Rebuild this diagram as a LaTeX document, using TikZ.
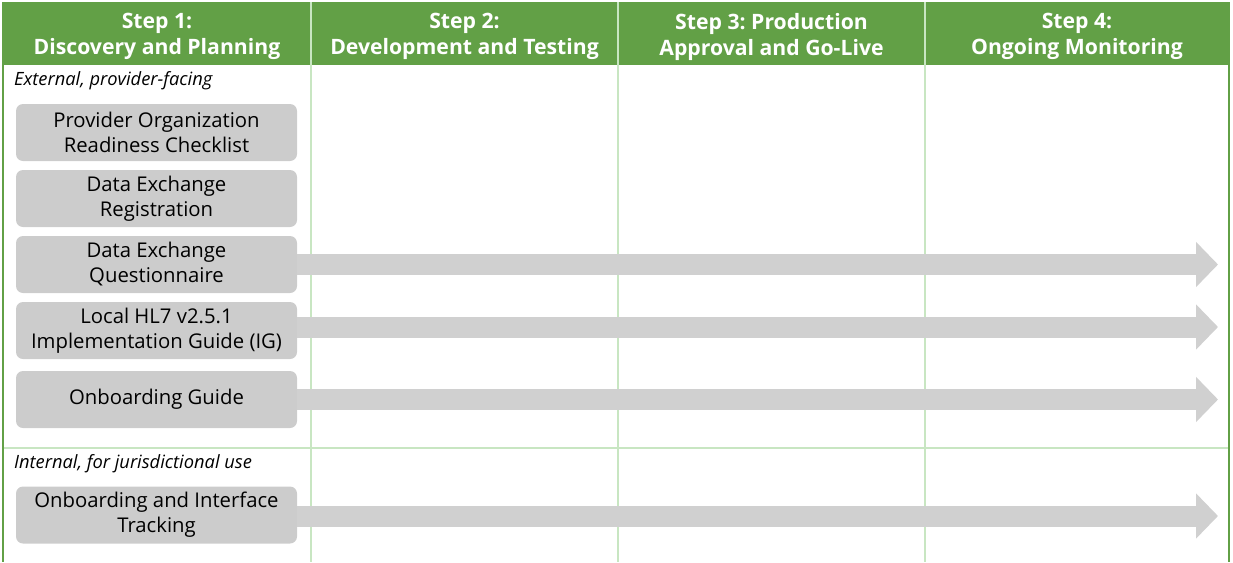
\documentclass[tikz,border=0pt]{standalone}
\usepackage{fontspec}
\setmainfont{Open Sans}
\frenchspacing
\usetikzlibrary{positioning, calc, arrows.meta}

\definecolor{hdrgreen}{HTML}{62A046}
\definecolor{gridgreen}{HTML}{C8E6C2}
\definecolor{boxgray}{HTML}{CCCCCC}
\definecolor{flowgray}{HTML}{D0D0D0}

\tikzset{
  header/.style={align=center, text=white, font=\bfseries\fontsize{21.2}{26}\selectfont},
  tool/.style={fill=boxgray, rounded corners=7pt, minimum width=281pt, minimum height=57pt,
    align=center, inner sep=0pt, font=\fontsize{20.3}{25}\selectfont},
  group/.style={anchor=west, inner sep=0pt, font=\itshape\fontsize{18.3}{20}\selectfont},
  flow/.style={draw=flowgray, line width=21pt, -{Triangle[length=22pt, width=44pt]}},
  grid/.style={draw=gridgreen, line width=1.2pt}
}

\begin{document}
\begin{tikzpicture}[x=1pt, y=-1pt]
        \useasboundingbox (0,0) rectangle (1233,562);

        % Header band
        \fill[hdrgreen] (3,2) rectangle (1229,65);
        \node[header] (step1) at (157,36.5) {Step 1:\\Discovery and Planning};
        \node[header] (step2) at (464.5,36.5) {Step 2:\\Development and Testing};
        \node[header] (step3) at (771.5,36.5) {Step 3: Production\\Approval and Go-Live};
        \node[header] (step4) at (1077,36.5) {Step 4:\\Ongoing Monitoring};

        % Column and row rules
        \foreach \x in {311, 618, 925}
          \draw[grid] (\x,2) -- (\x,562);
        \draw[grid] (3,448) -- (1229,448);
        \draw[hdrgreen, line width=1.5pt] (3,2) -- (3,562);
        \draw[hdrgreen, line width=1.5pt] (1229,2) -- (1229,562);

        % Group labels
        \node[group] (external) at (14,81) {External, provider-facing};
        \node[group] (internal) at (14,464) {Internal, for jurisdictional use};

        % Tools
        \node[tool] (checklist) at (156.5,132.5) {Provider Organization\\Readiness Checklist};
        \node[tool] (registration) at (156.5,198.5) {Data Exchange\\Registration};
        \node[tool] (questionnaire) at (156.5,264.5) {Data Exchange\\Questionnaire};
        \node[tool] (guide) at (156.5,330.5) {Local HL7 v2.5.1\\Implementation Guide (IG)};
        \node[tool] (onboarding) at (156.5,399.5) {Onboarding Guide};
        \node[tool] (tracking) at (156.5,515) {Onboarding and Interface\\Tracking};

        % Arrows to the last step
        \coordinate (tip) at (1218,0);
        \draw[flow] (questionnaire.east) -- (questionnaire.east -| tip);
        \draw[flow] ([yshift=3.5pt]guide.east) -- ([yshift=3.5pt]guide.east -| tip);
        \draw[flow] (onboarding.east) -- (onboarding.east -| tip);
        \draw[flow] ([yshift=-1pt]tracking.east) -- ([yshift=-1pt]tracking.east -| tip);

\end{tikzpicture}
\end{document}
